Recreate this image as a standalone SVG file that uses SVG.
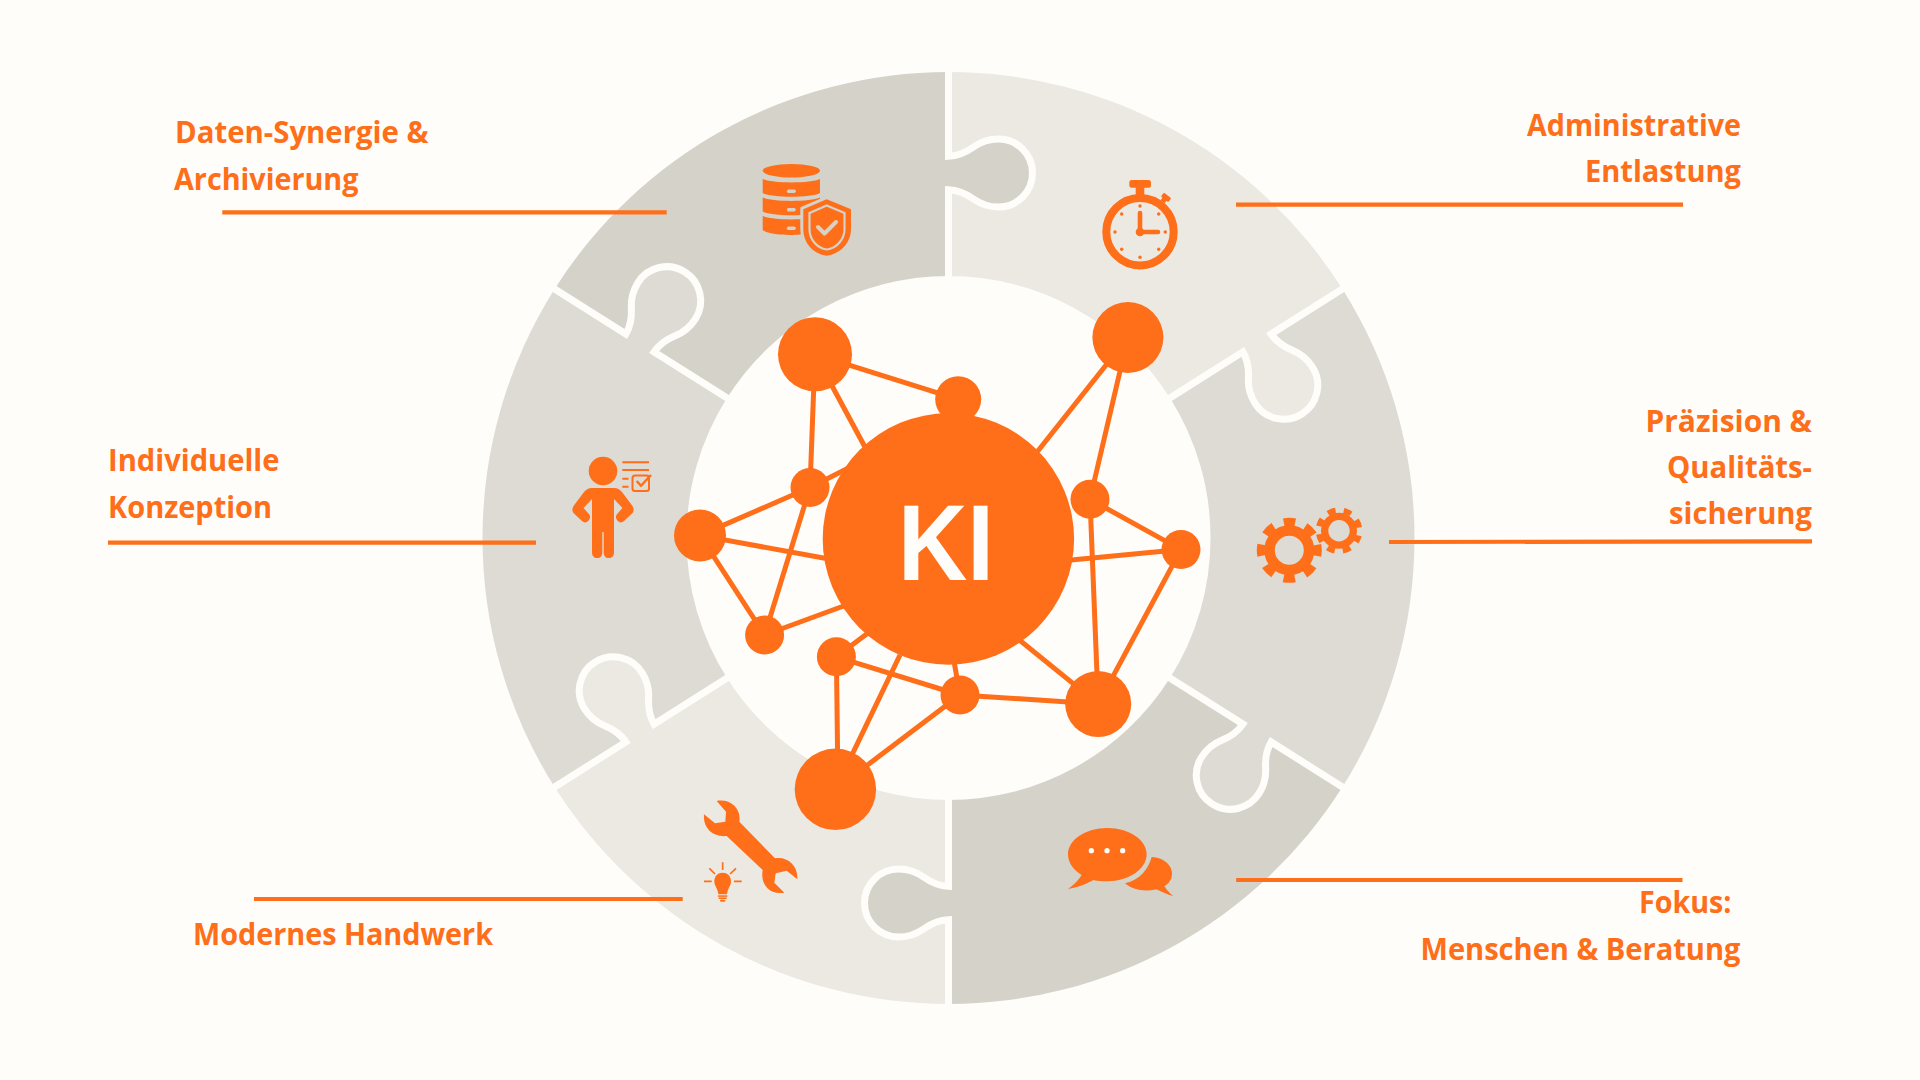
<svg xmlns="http://www.w3.org/2000/svg" width="1920" height="1080" viewBox="0 0 1920 1080">
<style>
.o{fill:#FF6E19}
.lbl{font-family:"Open Sans","Liberation Sans",sans-serif;font-weight:700;font-size:31px;fill:#FF6E19}
.edge{stroke:#FF6E19;stroke-width:5;fill:none}
.lead{stroke:#FF6E19;stroke-width:4.2;fill:none}
.seam{stroke:#FEFDF9;stroke-width:7;fill:none;stroke-linejoin:miter}
.a{fill:#D5D2CA}.b{fill:#ECE9E2}.c{fill:#DEDBD4}
</style>
<defs>
<path id="seam" d="M948.5 65V156.3C958 156 966.5 152 973.5 147C980.5 142 988.5 139 998.5 139A34 34 0 0 1 998.5 207C988.5 207 980.5 204 973.5 199C966.5 194 958 190 948.5 189.7V285"/>
<path id="tab" d="M944 156.3H948.5C958 156 966.5 152 973.5 147C980.5 142 988.5 139 998.5 139A34 34 0 0 1 998.5 207C988.5 207 980.5 204 973.5 199C966.5 194 958 190 948.5 189.7H944Z"/>
</defs>
<rect width="1920" height="1080" fill="#FEFDF9"/>
<g id="ring">
<path id="sector-top-left" class="a" d="M554.6 289A466 466 0 0 1 948.5 72V276A262 262 0 0 0 727 398Z"/>
<path id="sector-top-right" class="b" d="M948.5 72A466 466 0 0 1 1342.4 289L1170 398A262 262 0 0 0 948.5 276Z"/>
<path id="sector-right" class="c" d="M1342.4 289A466 466 0 0 1 1342.4 787L1170 678A262 262 0 0 0 1170 398Z"/>
<path id="sector-bottom-right" class="a" d="M1342.4 787A466 466 0 0 1 948.5 1004V800A262 262 0 0 0 1170 678Z"/>
<path id="sector-bottom-left" class="b" d="M948.5 1004A466 466 0 0 1 554.6 787L727 678A262 262 0 0 0 948.5 800Z"/>
<path id="sector-left" class="c" d="M554.6 787A466 466 0 0 1 554.6 289L727 398A262 262 0 0 0 727 678Z"/>
<g id="tabs">
<use href="#tab" class="a" transform="rotate(0 948.5 538)"/><use href="#tab" class="b" transform="rotate(57.7 948.5 538)"/><use href="#tab" class="c" transform="rotate(122.3 948.5 538)"/><use href="#tab" class="a" transform="rotate(180 948.5 538)"/><use href="#tab" class="b" transform="rotate(237.7 948.5 538)"/><use href="#tab" class="c" transform="rotate(302.3 948.5 538)"/>
</g>
<g id="seams" class="seam">
<use href="#seam" transform="rotate(0 948.5 538)"/><use href="#seam" transform="rotate(57.7 948.5 538)"/><use href="#seam" transform="rotate(122.3 948.5 538)"/><use href="#seam" transform="rotate(180 948.5 538)"/><use href="#seam" transform="rotate(237.7 948.5 538)"/><use href="#seam" transform="rotate(302.3 948.5 538)"/>
</g>
</g>
<g id="connectors">
<g id="network-edges" class="edge">
<path d="M815 354.3L958.2 399.3"/><path d="M815 354.3L810 487.5"/><path d="M815 354.3L880 475"/><path d="M810 487.5L880 452"/><path d="M810 487.5L700 535.4"/><path d="M810 487.5L764.6 635"/><path d="M700 535.4L840 561"/><path d="M700 535.4L764.6 635"/><path d="M764.6 635L860 600"/><path d="M836.4 656.8L880 624"/><path d="M836.4 656.8L960 695"/><path d="M836.4 656.8L838 789"/><path d="M900 655L835.4 789.3"/><path d="M960 695L835.4 789.3"/><path d="M960 695L952 650"/><path d="M960 695L1098.2 703.9"/><path d="M1000 624.3L1098.2 703.9"/><path d="M1090 499.3L1098.2 703.9"/><path d="M1181 549.6L1098.2 703.9"/><path d="M1040 563L1181 549.6"/><path d="M1090 499.3L1181 549.6"/><path d="M1090 499.3L1127.9 337.5"/><path d="M1020 473.5L1127.9 337.5"/>
</g>
<g id="leaders" class="lead">
<path d="M222.3 212.3H666.7"/><path d="M108 542.7H536"/><path d="M254 899H682.7"/><path d="M1236 204.7H1683"/><path d="M1389 542L1812 541.3"/><path d="M1236.2 880H1682.5"/>
</g>
</g>
<g id="network" class="o">
<g id="node-1"><circle cx="815" cy="354.3" r="37"/></g>
<g id="node-2"><circle cx="958.2" cy="399.3" r="23"/></g>
<g id="node-3"><circle cx="1127.9" cy="337.5" r="35.5"/></g>
<g id="node-4"><circle cx="810" cy="487.5" r="19.5"/></g>
<g id="node-5"><circle cx="700" cy="535.4" r="26"/></g>
<g id="node-6"><circle cx="764.6" cy="635" r="19.5"/></g>
<g id="node-7"><circle cx="1090" cy="499.3" r="19.5"/></g>
<g id="node-8"><circle cx="1181" cy="549.6" r="19.5"/></g>
<g id="node-9"><circle cx="1098.2" cy="703.9" r="33"/></g>
<g id="node-10"><circle cx="960" cy="695" r="19.5"/></g>
<g id="node-11"><circle cx="836.4" cy="656.8" r="19.5"/></g>
<g id="node-12"><circle cx="835.4" cy="789.3" r="40.7"/></g>
<g id="node-ki"><circle cx="948.4" cy="539" r="125.7"/>
<text x="898" y="579.6" textLength="96" lengthAdjust="spacingAndGlyphs" font-family="'Liberation Sans',Arimo,sans-serif" font-weight="700" font-size="107" fill="#FEFDF9">KI</text></g>
</g>
<g id="icon-database">
<path class="o" d="M762.7 170.7A28.6 6.8 0 0 1 820 170.7A28.6 6.8 0 0 1 762.7 170.7Z"/>
<path class="o" d="M762.7 179C772 183.5 811 183.5 820 179V193C811 198 772 198 762.7 193Z"/>
<path class="o" d="M762.7 197.5C772 202 811 202 820 197.5V211.5C811 216.5 772 216.5 762.7 211.5Z"/>
<path class="o" d="M762.7 216C772 220.5 811 220.5 820 216V230C818 235 772 238 762.7 230Z"/>
<rect class="a" x="786.8" y="189.6" width="9" height="3.4" rx="1.7"/><rect class="a" x="786.8" y="208" width="9" height="3.4" rx="1.7"/><rect class="a" x="786.8" y="226.6" width="9" height="3.4" rx="1.7"/>
<path d="M826.7 199.3L851 209.3V229C851 243 840 254 826.7 255.7C813 254 803.3 243 803.3 229V209.3Z" fill="#FF6E19" stroke="#D5D2CA" stroke-width="6" paint-order="stroke"/>
<path d="M826.7 203.5L847 212V229C847 241 838 250.5 826.7 251.8C815.5 250.5 807.3 241 807.3 229V212Z" class="o"/>
<path d="M826.7 205.5L844.5 213V229C844.5 239.5 836.5 248.5 826.7 249.5C817 248.5 809.5 239.5 809.5 229V213Z" fill="none" stroke="#D5D2CA" stroke-width="2.2"/>
<path d="M818 227L824.5 233.5L836 222" fill="none" stroke="#D5D2CA" stroke-width="4" stroke-linecap="round" stroke-linejoin="round"/>
</g>
<g id="icon-stopwatch">
<circle cx="1140" cy="231.7" r="33.7" fill="none" stroke="#FF6E19" stroke-width="8"/>
<rect class="o" x="1135.7" y="186" width="8.6" height="10"/><rect class="o" x="1129.3" y="180" width="21.7" height="7.7" rx="2.5"/>
<g transform="rotate(38 1166 197.3)"><rect class="o" x="1161.4" y="194.8" width="9.3" height="5" rx="1.2"/><rect class="o" x="1163.5" y="198" width="5" height="5"/></g>
<g class="o"><circle cx="1140" cy="206" r="1.7"/><circle cx="1158.7" cy="214" r="1.7"/><circle cx="1165.3" cy="232" r="1.7"/><circle cx="1158.7" cy="249.3" r="1.7"/><circle cx="1140" cy="257.3" r="1.7"/><circle cx="1121.7" cy="249.3" r="1.7"/><circle cx="1115" cy="232" r="1.7"/><circle cx="1121.7" cy="214" r="1.7"/><circle cx="1140" cy="232" r="4.3"/></g>
<path d="M1140 213V232H1158" fill="none" stroke="#FF6E19" stroke-width="4.6" stroke-linecap="round"/>
</g>
<g id="icon-gears" fill="none" stroke="#FF6E19">
<circle cx="1289.3" cy="550.3" r="19.75" stroke-width="10.5"/>
<circle cx="1289.3" cy="550.3" r="28.5" stroke-width="8" stroke-dasharray="11.5 10.88" stroke-dashoffset="5.75"/>
<circle cx="1339" cy="530.7" r="14.35" stroke-width="7.3"/>
<circle cx="1339" cy="530.7" r="20.5" stroke-width="5.5" stroke-dasharray="8 8.1" stroke-dashoffset="4" transform="rotate(22.5 1339 530.7)"/>
</g>
<g id="icon-speech" transform="translate(1040 800) scale(.33333)">
<path class="o" d="M84 163C84 119 137 84 202 84C267 84 320 119 320 163C320 207 267 244 202 244C188 244 173 243 160 240C140 252 112 262 84 267C100 255 115 242 125 225C100 210 84 188 84 163Z"/>
<path class="o" d="M335 171C370 172 397 195 396 222C395 240 385 252 373 258C380 270 390 280 400 288C382 284 365 276 350 268C310 277 275 268 255 250C300 240 325 208 335 171Z"/>
<circle cx="154" cy="152" r="8" fill="#FEFDF9"/><circle cx="201" cy="152" r="8" fill="#FEFDF9"/><circle cx="248" cy="152" r="8" fill="#FEFDF9"/>
</g>
<g id="icon-tools" transform="translate(680 780) scale(.33333)">
<path class="o" d="M110 63C150 55 185 85 178 125L285 235C320 228 355 255 352 298L320 272L287 280L283 308L313 338C270 345 240 315 248 270L140 168C100 172 68 145 72 103L105 130L136 125L138 95Z"/>
<path class="o" d="M128 278C110 278 103 292 103 304C103 318 113 325 115 343H141C143 325 153 318 153 304C153 292 146 278 128 278Z"/>
<rect class="o" x="114" y="346" width="28" height="4.5"/><rect class="o" x="116" y="352.5" width="24" height="4.5"/><rect class="o" x="120" y="359" width="16" height="6.5" rx="3"/>
<path d="M128 247V270M88 265L105 282M168 265L150 282M72 304H95M162 304H185" fill="none" stroke="#FF6E19" stroke-width="5"/>
</g>
<g id="icon-person">
<circle class="o" cx="603" cy="471" r="14.3"/>
<path class="o" d="M592 488H614C618 488 620 490 622 492L632.5 506C634 509 634 511 632.5 513L624 521C622 523 619 523 617 520C615 517 616 515 618 513L622.5 508L614 499V552C614 556 612 558 608.8 558C605.5 558 603.7 556 603.7 552V532H602.3V552C602.3 556 600.5 558 597.2 558C594 558 592 556 592 552V499L583.5 508L588 513C590 515 591 517 589 520C587 523 584 523 582 521L573.5 513C572 511 572 509 573.5 506L584 492C586 490 588 488 592 488Z"/>
<path d="M622.3 462.3H649M622.3 470H649M622.3 478.7H628.5M622.3 486.7H628.5" fill="none" stroke="#FF6E19" stroke-width="2"/>
<rect x="632.5" y="475.5" width="16.5" height="15.5" rx="2.5" fill="none" stroke="#FF6E19" stroke-width="2"/>
<path d="M636.7 481L641 485.7L651 475" fill="none" stroke="#FF6E19" stroke-width="2.4"/>
</g>
<g id="labels">
<g id="label-daten"><text class="lbl" x="175" y="142.7" textLength="253.5" lengthAdjust="spacingAndGlyphs">Daten-Synergie &amp;</text><text class="lbl" x="174" y="190" textLength="184.5" lengthAdjust="spacingAndGlyphs">Archivierung</text></g>
<g id="label-individuelle"><text class="lbl" x="108" y="470.7" textLength="171.5" lengthAdjust="spacingAndGlyphs">Individuelle</text><text class="lbl" x="108" y="518" textLength="164" lengthAdjust="spacingAndGlyphs">Konzeption</text></g>
<g id="label-handwerk"><text class="lbl" x="193" y="945" textLength="300" lengthAdjust="spacingAndGlyphs">Modernes Handwerk</text></g>
<g id="label-admin"><text class="lbl" x="1527" y="136" textLength="214" lengthAdjust="spacingAndGlyphs">Administrative</text><text class="lbl" x="1585" y="181.7" textLength="156" lengthAdjust="spacingAndGlyphs">Entlastung</text></g>
<g id="label-praezision"><text class="lbl" x="1645.5" y="432" textLength="166.5" lengthAdjust="spacingAndGlyphs">Präzision &amp;</text><text class="lbl" x="1667" y="478" textLength="145" lengthAdjust="spacingAndGlyphs">Qualitäts-</text><text class="lbl" x="1669" y="524" textLength="143" lengthAdjust="spacingAndGlyphs">sicherung</text></g>
<g id="label-fokus"><text class="lbl" x="1639" y="913.3" textLength="92.5" lengthAdjust="spacingAndGlyphs">Fokus:</text><text class="lbl" x="1420.5" y="960" textLength="320" lengthAdjust="spacingAndGlyphs">Menschen &amp; Beratung</text></g>
</g>
</svg>
